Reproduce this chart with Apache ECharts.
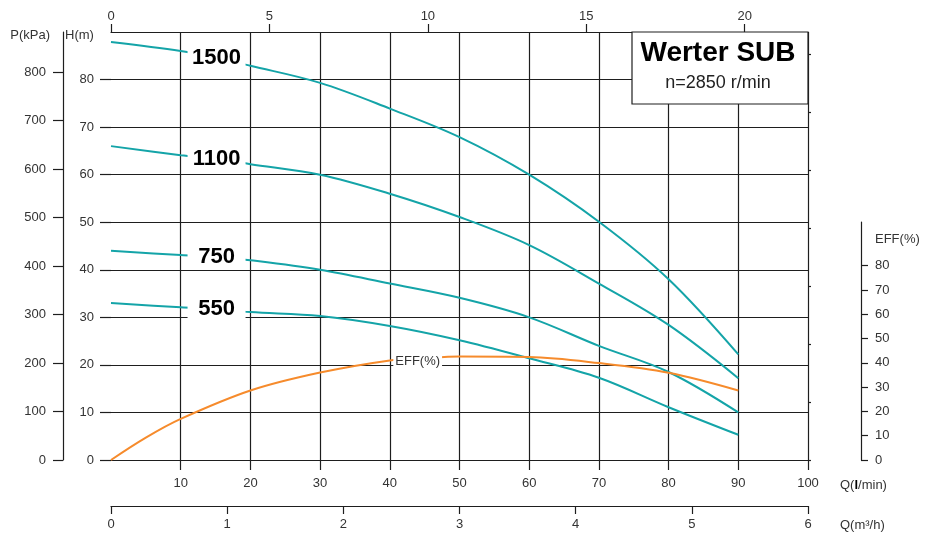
<!DOCTYPE html>
<html>
<head>
<meta charset="utf-8">
<script src="https://cdn.jsdelivr.net/npm/echarts@6/dist/echarts.min.js"></script>
<style>
  html, body { margin: 0; padding: 0; background: #fff; }
  #chart { width: 929px; height: 544px; }
</style>
</head>
<body>
<div id="chart"></div>
<script>
// pump curves, Q in l/min, H in m
const flowLpm = [0, 10, 15, 20, 30, 40, 50, 60, 70, 80, 90];
const head1500 = [87.9, 86.0, 84.6, 82.9, 79.3, 73.9, 67.9, 60.0, 50.1, 38.0, 22.2];
const head1100 = [66.0, 64.1, 63.3, 62.2, 60.0, 56.0, 51.1, 45.2, 37.1, 28.4, 17.2];
const head750 = [44.0, 43.1, 42.7, 42.0, 40.0, 37.1, 34.1, 30.0, 24.0, 18.5, 10.0];
const head550 = [33.0, 32.1, 31.7, 31.1, 30.3, 28.2, 25.2, 21.4, 17.3, 11.1, 5.3];
const curveNames = ['1500', '1100', '750', '550'];

// efficiency curve
const effFlow = [0, 5, 10, 20, 30, 40, 44, 50, 60, 70, 80, 90];
const effValues = [0, 9.2, 16.9, 28.6, 36.0, 41.0, 41.6, 42.6, 42.4, 39.9, 35.9, 28.6];

// tick labels
const qTicks = [10, 20, 30, 40, 50, 60, 70, 80, 90, 100];
const hTicks = [0, 10, 20, 30, 40, 50, 60, 70, 80];
const pTicks = [0, 100, 200, 300, 400, 500, 600, 700, 800];
const gpmTicks = [0, 5, 10, 15, 20];
const ftTicks = [0, 40, 80, 120, 160, 200, 240, 280];
const effTicks = [0, 10, 20, 30, 40, 50, 60, 70, 80];

const FONT = '"Liberation Sans", Arial, sans-serif';
const TEAL = '#14a4a8';
const ORANGE = '#f68b2c';
const INK = '#1e1e1e';
const TXT = '#333';

const labelFlow = 15;
const effLabelFlow = 44;

function curveData(heads, name) {
  return flowLpm.map((q, i) => {
    if (q === labelFlow) {
      return {
        value: [q, heads[i]],
        label: {
          show: true, formatter: name, position: 'inside',
          fontFamily: FONT, fontSize: 22, fontWeight: 'bold', color: '#000',
          backgroundColor: '#fff', width: 56, align: 'center', padding: [1, 1],
          offset: [1, 0]
        }
      };
    }
    return [q, heads[i]];
  });
}

const effData = effFlow.map((q, i) => {
  if (q === effLabelFlow) {
    return {
      value: [q, effValues[i]],
      label: {
        show: true, formatter: 'EFF(%)', position: 'inside',
        fontFamily: FONT, fontSize: 13, color: TXT,
        backgroundColor: '#fff', padding: [1, 2], offset: [0, 2]
      }
    };
  }
  return [q, effValues[i]];
});

const headSeries = [head1500, head1100, head750, head550].map((h, k) => ({
  name: curveNames[k],
  type: 'line',
  xAxisIndex: 0,
  yAxisIndex: 0,
  smooth: 0.35,
  symbol: 'circle',
  symbolSize: 0,
  showSymbol: true,
  lineStyle: { color: TEAL, width: 2 },
  itemStyle: { color: TEAL },
  silent: true,
  data: curveData(h, curveNames[k])
}));

const lineAx = { show: true, onZero: false, lineStyle: { color: INK, width: 1.2 } };
const noLine = { show: false, onZero: false };
const labelBase = { fontFamily: FONT, fontSize: 13, color: TXT };

const chart = echarts.init(document.getElementById('chart'));
chart.setOption({
  animation: false,
  backgroundColor: '#fff',
  grid: [
    { left: 111, right: 121, top: 32, bottom: 84 },
    { left: 111, right: 121, top: 222, bottom: 84 }
  ],
  xAxis: [
    { // Q l/min
      type: 'value', gridIndex: 0, position: 'bottom', min: 0, max: 100, interval: 10,
      axisLine: lineAx,
      axisTick: { show: true, length: 10, lineStyle: { color: INK, width: 1.2 }, customValues: qTicks },
      axisLabel: Object.assign({ margin: 17, customValues: qTicks }, labelBase),
      splitLine: { show: true, lineStyle: { color: INK, width: 1.2 } }
    },
    { // Q m3/h
      type: 'value', gridIndex: 0, position: 'bottom', offset: 46, min: 0, max: 6, interval: 1,
      axisLine: lineAx,
      axisTick: { show: true, length: 8, lineStyle: { color: INK, width: 1.2 } },
      axisLabel: Object.assign({ margin: 12 }, labelBase),
      splitLine: { show: false }
    },
    { // imperial gpm on top
      type: 'value', gridIndex: 0, position: 'top', min: 0, max: 100 / 4.54609, interval: 5,
      axisLine: lineAx,
      axisTick: { show: true, length: 8, lineStyle: { color: INK, width: 1.2 }, customValues: gpmTicks },
      axisLabel: Object.assign({ margin: 9, customValues: gpmTicks }, labelBase),
      splitLine: { show: false }
    },
    { // hidden axis for efficiency grid
      type: 'value', gridIndex: 1, min: 0, max: 100, show: false
    }
  ],
  yAxis: [
    { // H m
      type: 'value', gridIndex: 0, position: 'left', min: 0, max: 90, interval: 10,
      axisLine: noLine,
      axisTick: { show: true, length: 11, lineStyle: { color: INK, width: 1.2 }, customValues: hTicks },
      axisLabel: Object.assign({ margin: 17, customValues: hTicks }, labelBase),
      splitLine: { show: true, lineStyle: { color: INK, width: 1.2 } }
    },
    { // P kPa
      type: 'value', gridIndex: 0, position: 'left', offset: 48, min: 0, max: 90 * 9.80665, interval: 100,
      axisLine: lineAx,
      axisTick: { show: true, length: 10, lineStyle: { color: INK, width: 1.2 }, customValues: pTicks },
      axisLabel: Object.assign({ margin: 17, customValues: pTicks }, labelBase),
      splitLine: { show: false }
    },
    { // feet ticks on right edge
      type: 'value', gridIndex: 0, position: 'right', min: 0, max: 90 / 0.3048, interval: 40,
      axisLine: noLine,
      axisTick: { show: true, length: 3, lineStyle: { color: INK, width: 1.2 }, customValues: ftTicks },
      axisLabel: { show: false },
      splitLine: { show: false }
    },
    { // EFF %
      type: 'value', gridIndex: 1, position: 'right', offset: 53, min: 0, max: 98, interval: 10,
      axisLine: lineAx,
      axisTick: { show: true, length: 7, lineStyle: { color: INK, width: 1.2 }, customValues: effTicks },
      axisLabel: Object.assign({ margin: 14, customValues: effTicks }, labelBase),
      splitLine: { show: false }
    }
  ],
  graphic: [
    { type: 'text', x: 50, y: 35, z: 50,
      style: { text: 'P(kPa)', fontFamily: FONT, fontSize: 13, fill: TXT, align: 'right', verticalAlign: 'middle', textAlign: 'right', textVerticalAlign: 'middle' } },
    { type: 'text', x: 65, y: 35, z: 50,
      style: { text: 'H(m)', fontFamily: FONT, fontSize: 13, fill: TXT, align: 'left', verticalAlign: 'middle', textAlign: 'left', textVerticalAlign: 'middle' } },
    { type: 'text', x: 875, y: 239, z: 50,
      style: { text: 'EFF(%)', fontFamily: FONT, fontSize: 13, fill: TXT, align: 'left', verticalAlign: 'middle', textAlign: 'left', textVerticalAlign: 'middle' } },
    { type: 'text', x: 840, y: 485, z: 50,
      style: { text: '{a|Q(}{b|l}{a|/min)}', fontFamily: FONT, fontSize: 13, fill: TXT, align: 'left', verticalAlign: 'middle', textAlign: 'left', textVerticalAlign: 'middle',
        rich: { a: { fontFamily: FONT, fontSize: 13, fill: TXT, color: TXT }, b: { fontFamily: FONT, fontSize: 13, fontWeight: 'bold', fill: '#000', color: '#000' } } } },
    { type: 'text', x: 840, y: 525, z: 50,
      style: { text: 'Q(m³/h)', fontFamily: FONT, fontSize: 13, fill: TXT, align: 'left', verticalAlign: 'middle', textAlign: 'left', textVerticalAlign: 'middle' } },
    { type: 'rect', z: 100,
      shape: { x: 632, y: 32, width: 176, height: 72 },
      style: { fill: '#fff', stroke: INK, lineWidth: 1.2 } },
    { type: 'text', x: 718, y: 53, z: 101,
      style: { text: 'Werter SUB', fontFamily: FONT, fontSize: 28, fontWeight: 'bold', fill: '#000', align: 'center', verticalAlign: 'middle', textAlign: 'center', textVerticalAlign: 'middle' } },
    { type: 'text', x: 718, y: 83, z: 101,
      style: { text: 'n=2850 r/min', fontFamily: FONT, fontSize: 18, fill: '#222', align: 'center', verticalAlign: 'middle', textAlign: 'center', textVerticalAlign: 'middle' } }
  ],
  series: headSeries.concat([{
    name: 'EFF',
    type: 'line',
    xAxisIndex: 3,
    yAxisIndex: 3,
    smooth: 0.35,
    symbol: 'circle',
    symbolSize: 0,
    showSymbol: true,
    lineStyle: { color: ORANGE, width: 2 },
    itemStyle: { color: ORANGE },
    silent: true,
    data: effData
  }])
});
</script>
</body>
</html>
